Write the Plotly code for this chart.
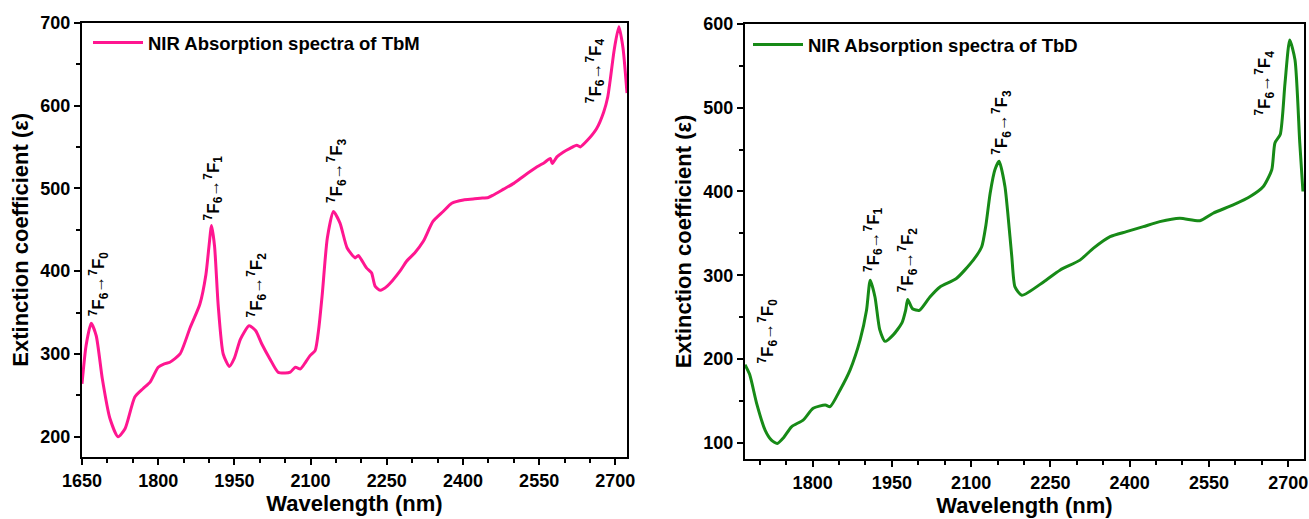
import plotly.graph_objects as go

# ---- TbM (left panel) ----
tbm_wl = [1650, 1658, 1668, 1678, 1690, 1705, 1721, 1735, 1754, 1770, 1784, 1800, 1812, 1823, 1843,
          1863, 1882, 1894, 1900, 1905, 1911, 1918, 1928, 1940, 1950, 1962, 1979, 1992, 2004, 2020,
          2036, 2050, 2060, 2070, 2080, 2090, 2099, 2109, 2116, 2123, 2133, 2145, 2158, 2172, 2188,
          2194, 2200, 2210, 2220, 2227, 2237, 2251, 2276, 2289, 2305, 2322, 2341, 2361, 2378, 2401,
          2420, 2434, 2450, 2460, 2480, 2500, 2520, 2546, 2560, 2572, 2576, 2585, 2598, 2610, 2624,
          2631, 2645, 2663, 2677, 2685, 2690, 2698, 2707, 2715, 2723]
tbm_eps = [264, 310, 337, 322, 270, 222, 200, 210, 248, 258, 266, 284, 288, 290, 300,
           332, 360, 396, 430, 455, 430, 360, 300, 285, 295, 318, 334, 328, 312, 294,
           278, 277, 278, 284, 282, 290, 298, 304, 330, 372, 440, 472, 458, 428, 416,
           419, 414, 404, 398, 382, 377, 382, 400, 412, 422, 436, 460, 472, 482, 486,
           487, 488, 489, 492, 499, 506, 515, 526, 531, 536, 530, 538, 544, 548, 552,
           550, 558, 572, 592, 610, 631, 668, 695, 670, 615]

# ---- TbD (right panel) ----
tbd_wl = [1672, 1681, 1694, 1710, 1722, 1733, 1745, 1760, 1782, 1801, 1824, 1833, 1852, 1871,
          1890, 1902, 1909, 1918, 1927, 1937, 1953, 1969, 1976, 1980, 1989, 2002, 2022, 2041,
          2072, 2104, 2120, 2128, 2136, 2145, 2153, 2164, 2170, 2177, 2183, 2196, 2237, 2268,
          2306, 2331, 2363, 2394, 2426, 2457, 2495, 2533, 2558, 2596, 2628, 2653, 2669, 2675,
          2685, 2694, 2703, 2713, 2722, 2728]
tbd_eps = [193, 181, 147, 115, 103, 99, 106, 119, 127, 141, 145, 143, 163, 187,
           223, 258, 294, 274, 235, 221, 229, 243, 258, 271, 260, 258, 274, 286,
           296, 318, 334, 360, 398, 426, 436, 406, 370, 322, 286, 276, 292, 306,
           318, 332, 346, 352, 358, 364, 368, 365, 374, 384, 394, 406, 426, 458,
           468, 529, 581, 557, 458, 400]

x_ticks = [1650, 1800, 1950, 2100, 2250, 2400, 2550, 2700]
left_y_ticks = [200, 300, 400, 500, 600, 700]
right_y_ticks = [100, 200, 300, 400, 500, 600]

left_labels = [("0", 1683, 385), ("1", 1908, 500), ("2", 1993, 383), ("3", 2150, 522), ("4", 2661, 642)]
right_labels = [("0", 1714, 233), ("1", 1914, 343), ("2", 1979, 318), ("3", 2158, 483), ("4", 2656, 530)]

PINK = "#FF1690"
GREEN = "#178A17"
FONT = "Liberation Sans, Arial, sans-serif"

fig = go.Figure()
fig.add_trace(go.Scatter(x=tbm_wl, y=tbm_eps, mode="lines", line=dict(color=PINK, width=3, shape="spline", smoothing=0.6),
                         name="<b>NIR Absorption spectra of TbM</b>", xaxis="x", yaxis="y", legend="legend"))
fig.add_trace(go.Scatter(x=tbd_wl, y=tbd_eps, mode="lines", line=dict(color=GREEN, width=3, shape="spline", smoothing=0.6),
                         name="<b>NIR Absorption spectra of TbD</b>", xaxis="x2", yaxis="y2", legend="legend2"))

W, H = 1309, 519
def px(v):
    return v / W
def py(v):
    return 1 - v / H

axis_common = dict(showline=True, linecolor="black", linewidth=2, mirror=True, automargin=False,
                   ticks="outside", ticklen=6, tickwidth=2, tickcolor="black",
                   showgrid=False, zeroline=False,
                   tickfont=dict(family=FONT, size=18, color="black", weight="bold"),
                   minor=dict(ticks="outside", ticklen=4, tickwidth=1.5, tickcolor="black"))
title_font = dict(family=FONT, size=22, color="black", weight="bold")

fig.update_layout(
    width=W, height=H, margin=dict(l=0, r=0, t=0, b=0, autoexpand=False),
    paper_bgcolor="white", plot_bgcolor="white",
    showlegend=True,
    xaxis=dict(domain=[px(82), px(627)], range=[1650, 2723], tickvals=x_ticks, anchor="y",
               title=dict(text="Wavelength (nm)", font=title_font, standoff=2), **axis_common),
    yaxis=dict(domain=[py(457), py(22.7)], range=[175.6, 700], tickvals=left_y_ticks, anchor="x",
               title=dict(text="Extinction coefficient (ε)", font=title_font, standoff=6), **axis_common),
    xaxis2=dict(domain=[px(745), px(1304)], range=[1672, 2730], tickvals=x_ticks[1:], anchor="y2",
                title=dict(text="Wavelength (nm)", font=title_font, standoff=2), **axis_common),
    yaxis2=dict(domain=[py(459), py(24)], range=[80.5, 600], tickvals=right_y_ticks, anchor="x2",
                title=dict(text="Extinction coefficient (ε)", font=title_font, standoff=6), **axis_common),
    legend=dict(x=px(88), y=py(24), xanchor="left", yanchor="top", bgcolor="rgba(0,0,0,0)",
                font=dict(family=FONT, size=18.5, color="black"), itemwidth=50),
    legend2=dict(x=px(748), y=py(26), xanchor="left", yanchor="top", bgcolor="rgba(0,0,0,0)",
                 font=dict(family=FONT, size=18.5, color="black"), itemwidth=50),
)

ann_font = dict(family=FONT, size=17, color="black")
for sub, xv, yv in left_labels:
    fig.add_annotation(x=xv, y=yv, xref="x", yref="y", showarrow=False, textangle=-90,
                       text=f"<b><sup>7</sup>F<sub>6</sub>→<sup>7</sup>F<sub>{sub}</sub></b>", font=ann_font)
for sub, xv, yv in right_labels:
    fig.add_annotation(x=xv, y=yv, xref="x2", yref="y2", showarrow=False, textangle=-90,
                       text=f"<b><sup>7</sup>F<sub>6</sub>→<sup>7</sup>F<sub>{sub}</sub></b>", font=ann_font)

fig.write_html("out.html", config={"displayModeBar": False},
               post_script="document.body.style.margin='0';document.body.style.overflow='hidden';")
